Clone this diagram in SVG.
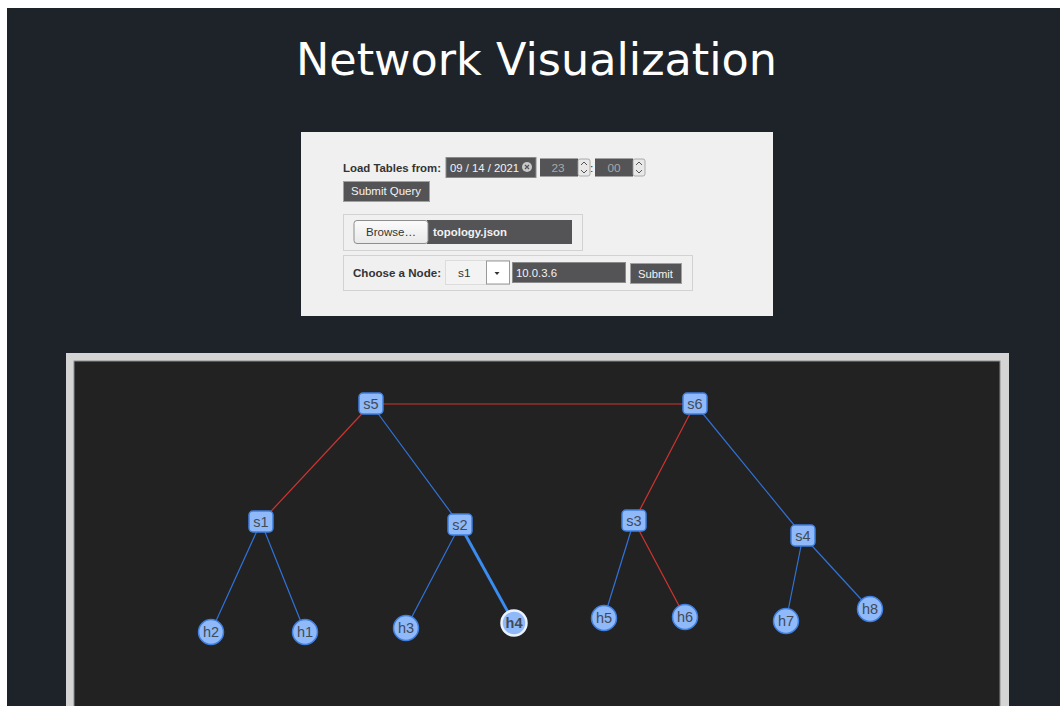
<svg xmlns="http://www.w3.org/2000/svg" width="1060" height="706" viewBox="0 0 1060 706">
  <defs>
    <style>
      .ui { font-family: "Liberation Sans", Arial, sans-serif; font-size: 11.8px; }
      .lbl { font-weight: bold; fill: #333; }
      .field { fill: #545457; stroke: #8a8a8a; stroke-width: 1; }
      .btn { fill: #545457; stroke: #a0a0a0; stroke-width: 1; }
      .wtext { fill: #f2f2f2; }
      .gtext { fill: #a8a8a8; }
      .box { fill: none; stroke: #d2d2d2; stroke-width: 1; }
      .spin { fill: #e8e8e8; stroke: #9a9a9a; stroke-width: 0.8; }
      .sw { fill: #8fb9f9; stroke: #3f7fe0; stroke-width: 1.5; }
      .host { fill: #8fb9f9; stroke: #3f7fe0; stroke-width: 1.5; }
      .ntext { font-family: "Liberation Sans", Arial, sans-serif; font-size: 14.5px; fill: #414b58; text-anchor: middle; }
      .red { stroke: #d03330; stroke-width: 1.2; fill: none; }
      .blue { stroke: #3172d8; stroke-width: 1.2; fill: none; }
    </style>
    <linearGradient id="browseGrad" x1="0" y1="0" x2="0" y2="1">
      <stop offset="0" stop-color="#fbfbfb"/>
      <stop offset="1" stop-color="#e9e9e9"/>
    </linearGradient>
  </defs>

  <!-- page -->
  <rect x="0" y="0" width="1060" height="706" fill="#ffffff"/>
  <rect x="7" y="8" width="1053" height="698" fill="#1e232a"/>

  <text x="536.5" y="75" font-family="DejaVu Sans, sans-serif" font-size="44.5" fill="#ffffff" text-anchor="middle">Network Visualization</text>

  <!-- control panel -->
  <g id="panel" class="ui">
    <rect x="301" y="132" width="472" height="184" fill="#f0f0f0"/>

    <text class="lbl" x="343" y="172" textLength="98" lengthAdjust="spacingAndGlyphs">Load Tables from:</text>
    <rect class="field" x="446" y="157.5" width="90" height="20"/>
    <text class="wtext" x="450" y="172" textLength="69" lengthAdjust="spacingAndGlyphs">09 / 14 / 2021</text>
    <circle cx="527" cy="167" r="5" fill="#c8c8c8"/>
    <path d="M525 165 L529 169 M529 165 L525 169" stroke="#545457" stroke-width="1.2"/>

    <rect x="540" y="158.5" width="38" height="18" fill="#545457"/>
    <text class="gtext" x="558" y="172" text-anchor="middle">23</text>
    <rect class="spin" x="578" y="159" width="12" height="17" rx="2"/>
    <path d="M581 165 L584 162 L587 165 M581 170 L584 173 L587 170" stroke="#555" stroke-width="1" fill="none"/>
    <text x="590" y="172" fill="#333">:</text>

    <rect x="595" y="158.5" width="38" height="18" fill="#545457"/>
    <text class="gtext" x="614" y="172" text-anchor="middle">00</text>
    <rect class="spin" x="633" y="159" width="12" height="17" rx="2"/>
    <path d="M636 165 L639 162 L642 165 M636 170 L639 173 L642 170" stroke="#555" stroke-width="1" fill="none"/>

    <rect class="btn" x="343.5" y="181.5" width="86" height="20"/>
    <text class="wtext" x="351" y="195" textLength="70" lengthAdjust="spacingAndGlyphs">Submit Query</text>

    <rect class="box" x="343.5" y="214.5" width="239" height="36"/>
    <rect x="427" y="220" width="145" height="24" fill="#545457"/>
    <rect x="354" y="220.5" width="74" height="23" rx="3" fill="url(#browseGrad)" stroke="#8e8e8e"/>
    <text x="366" y="236" fill="#333" textLength="50" lengthAdjust="spacingAndGlyphs">Browse…</text>
    <text x="433" y="236" class="wtext" font-weight="bold" textLength="74" lengthAdjust="spacingAndGlyphs">topology.json</text>

    <rect class="box" x="343.5" y="255.5" width="349" height="35"/>
    <text class="lbl" x="353" y="277" textLength="88" lengthAdjust="spacingAndGlyphs">Choose a Node:</text>
    <rect x="445.5" y="260.5" width="64" height="24" fill="#f3f3f3" stroke="#dcdcdc"/>
    <text x="458" y="277" fill="#333">s1</text>
    <rect x="486.5" y="261" width="23" height="23" fill="#ffffff" stroke="#999"/>
    <path d="M494.5 272 L499.5 272 L497 275 Z" fill="#333"/>
    <rect class="field" x="512.5" y="262.5" width="113" height="20"/>
    <text class="wtext" x="516" y="277" textLength="41" lengthAdjust="spacingAndGlyphs">10.0.3.6</text>
    <rect class="btn" x="630.5" y="263.5" width="51" height="20"/>
    <text class="wtext" x="638" y="278" textLength="35" lengthAdjust="spacingAndGlyphs">Submit</text>
  </g>

  <!-- graph canvas -->
  <rect x="66" y="353" width="943" height="360" fill="#d4d4d4"/>
  <rect x="74" y="361" width="926" height="352" fill="#222222" stroke="#8a8a8a" stroke-width="1"/>

  <g id="links">
    <line class="red" x1="371" y1="404" x2="695" y2="404"/>
    <line class="red" x1="371" y1="404" x2="261" y2="522"/>
    <line class="blue" x1="371" y1="404" x2="460" y2="525"/>
    <line class="red" x1="695" y1="404" x2="634" y2="521"/>
    <line class="blue" x1="695" y1="404" x2="803" y2="536"/>
    <line class="blue" x1="261" y1="522" x2="211" y2="632"/>
    <line class="blue" x1="261" y1="522" x2="305" y2="632"/>
    <line class="blue" x1="460" y1="525" x2="406" y2="628"/>
    <line x1="460" y1="525" x2="514" y2="623" stroke="#3a8cf0" stroke-width="3"/>
    <line class="blue" x1="634" y1="521" x2="604" y2="618"/>
    <line class="red" x1="634" y1="521" x2="685" y2="617"/>
    <line class="blue" x1="803" y1="536" x2="786" y2="621"/>
    <line class="blue" x1="803" y1="536" x2="870" y2="609"/>
  </g>

  <g id="s5"><rect class="sw" x="359" y="393" width="24" height="21" rx="4"/><text class="ntext" x="371" y="409">s5</text></g>
  <g id="s6"><rect class="sw" x="683" y="393" width="24" height="21" rx="4"/><text class="ntext" x="695" y="409">s6</text></g>
  <g id="s1"><rect class="sw" x="249" y="511" width="24" height="21" rx="4"/><text class="ntext" x="261" y="527">s1</text></g>
  <g id="s2"><rect class="sw" x="448" y="514" width="24" height="21" rx="4"/><text class="ntext" x="460" y="530">s2</text></g>
  <g id="s3"><rect class="sw" x="622" y="510" width="24" height="21" rx="4"/><text class="ntext" x="634" y="526">s3</text></g>
  <g id="s4"><rect class="sw" x="791" y="525" width="24" height="21" rx="4"/><text class="ntext" x="803" y="541">s4</text></g>

  <g id="h2"><circle class="host" cx="211" cy="632" r="12.5"/><text class="ntext" x="211" y="637">h2</text></g>
  <g id="h1"><circle class="host" cx="305" cy="632" r="12.5"/><text class="ntext" x="305" y="637">h1</text></g>
  <g id="h3"><circle class="host" cx="406" cy="628" r="12.5"/><text class="ntext" x="406" y="633">h3</text></g>
  <g id="h4"><circle cx="514" cy="623" r="12.5" fill="#8fb9f9" stroke="#eaf2ff" stroke-width="2.5"/><text class="ntext" x="514" y="628" font-weight="bold" fill="#2a3240">h4</text></g>
  <g id="h5"><circle class="host" cx="604" cy="618" r="12.5"/><text class="ntext" x="604" y="623">h5</text></g>
  <g id="h6"><circle class="host" cx="685" cy="617" r="12.5"/><text class="ntext" x="685" y="622">h6</text></g>
  <g id="h7"><circle class="host" cx="786" cy="621" r="12.5"/><text class="ntext" x="786" y="626">h7</text></g>
  <g id="h8"><circle class="host" cx="870" cy="609" r="12.5"/><text class="ntext" x="870" y="614">h8</text></g>
</svg>
